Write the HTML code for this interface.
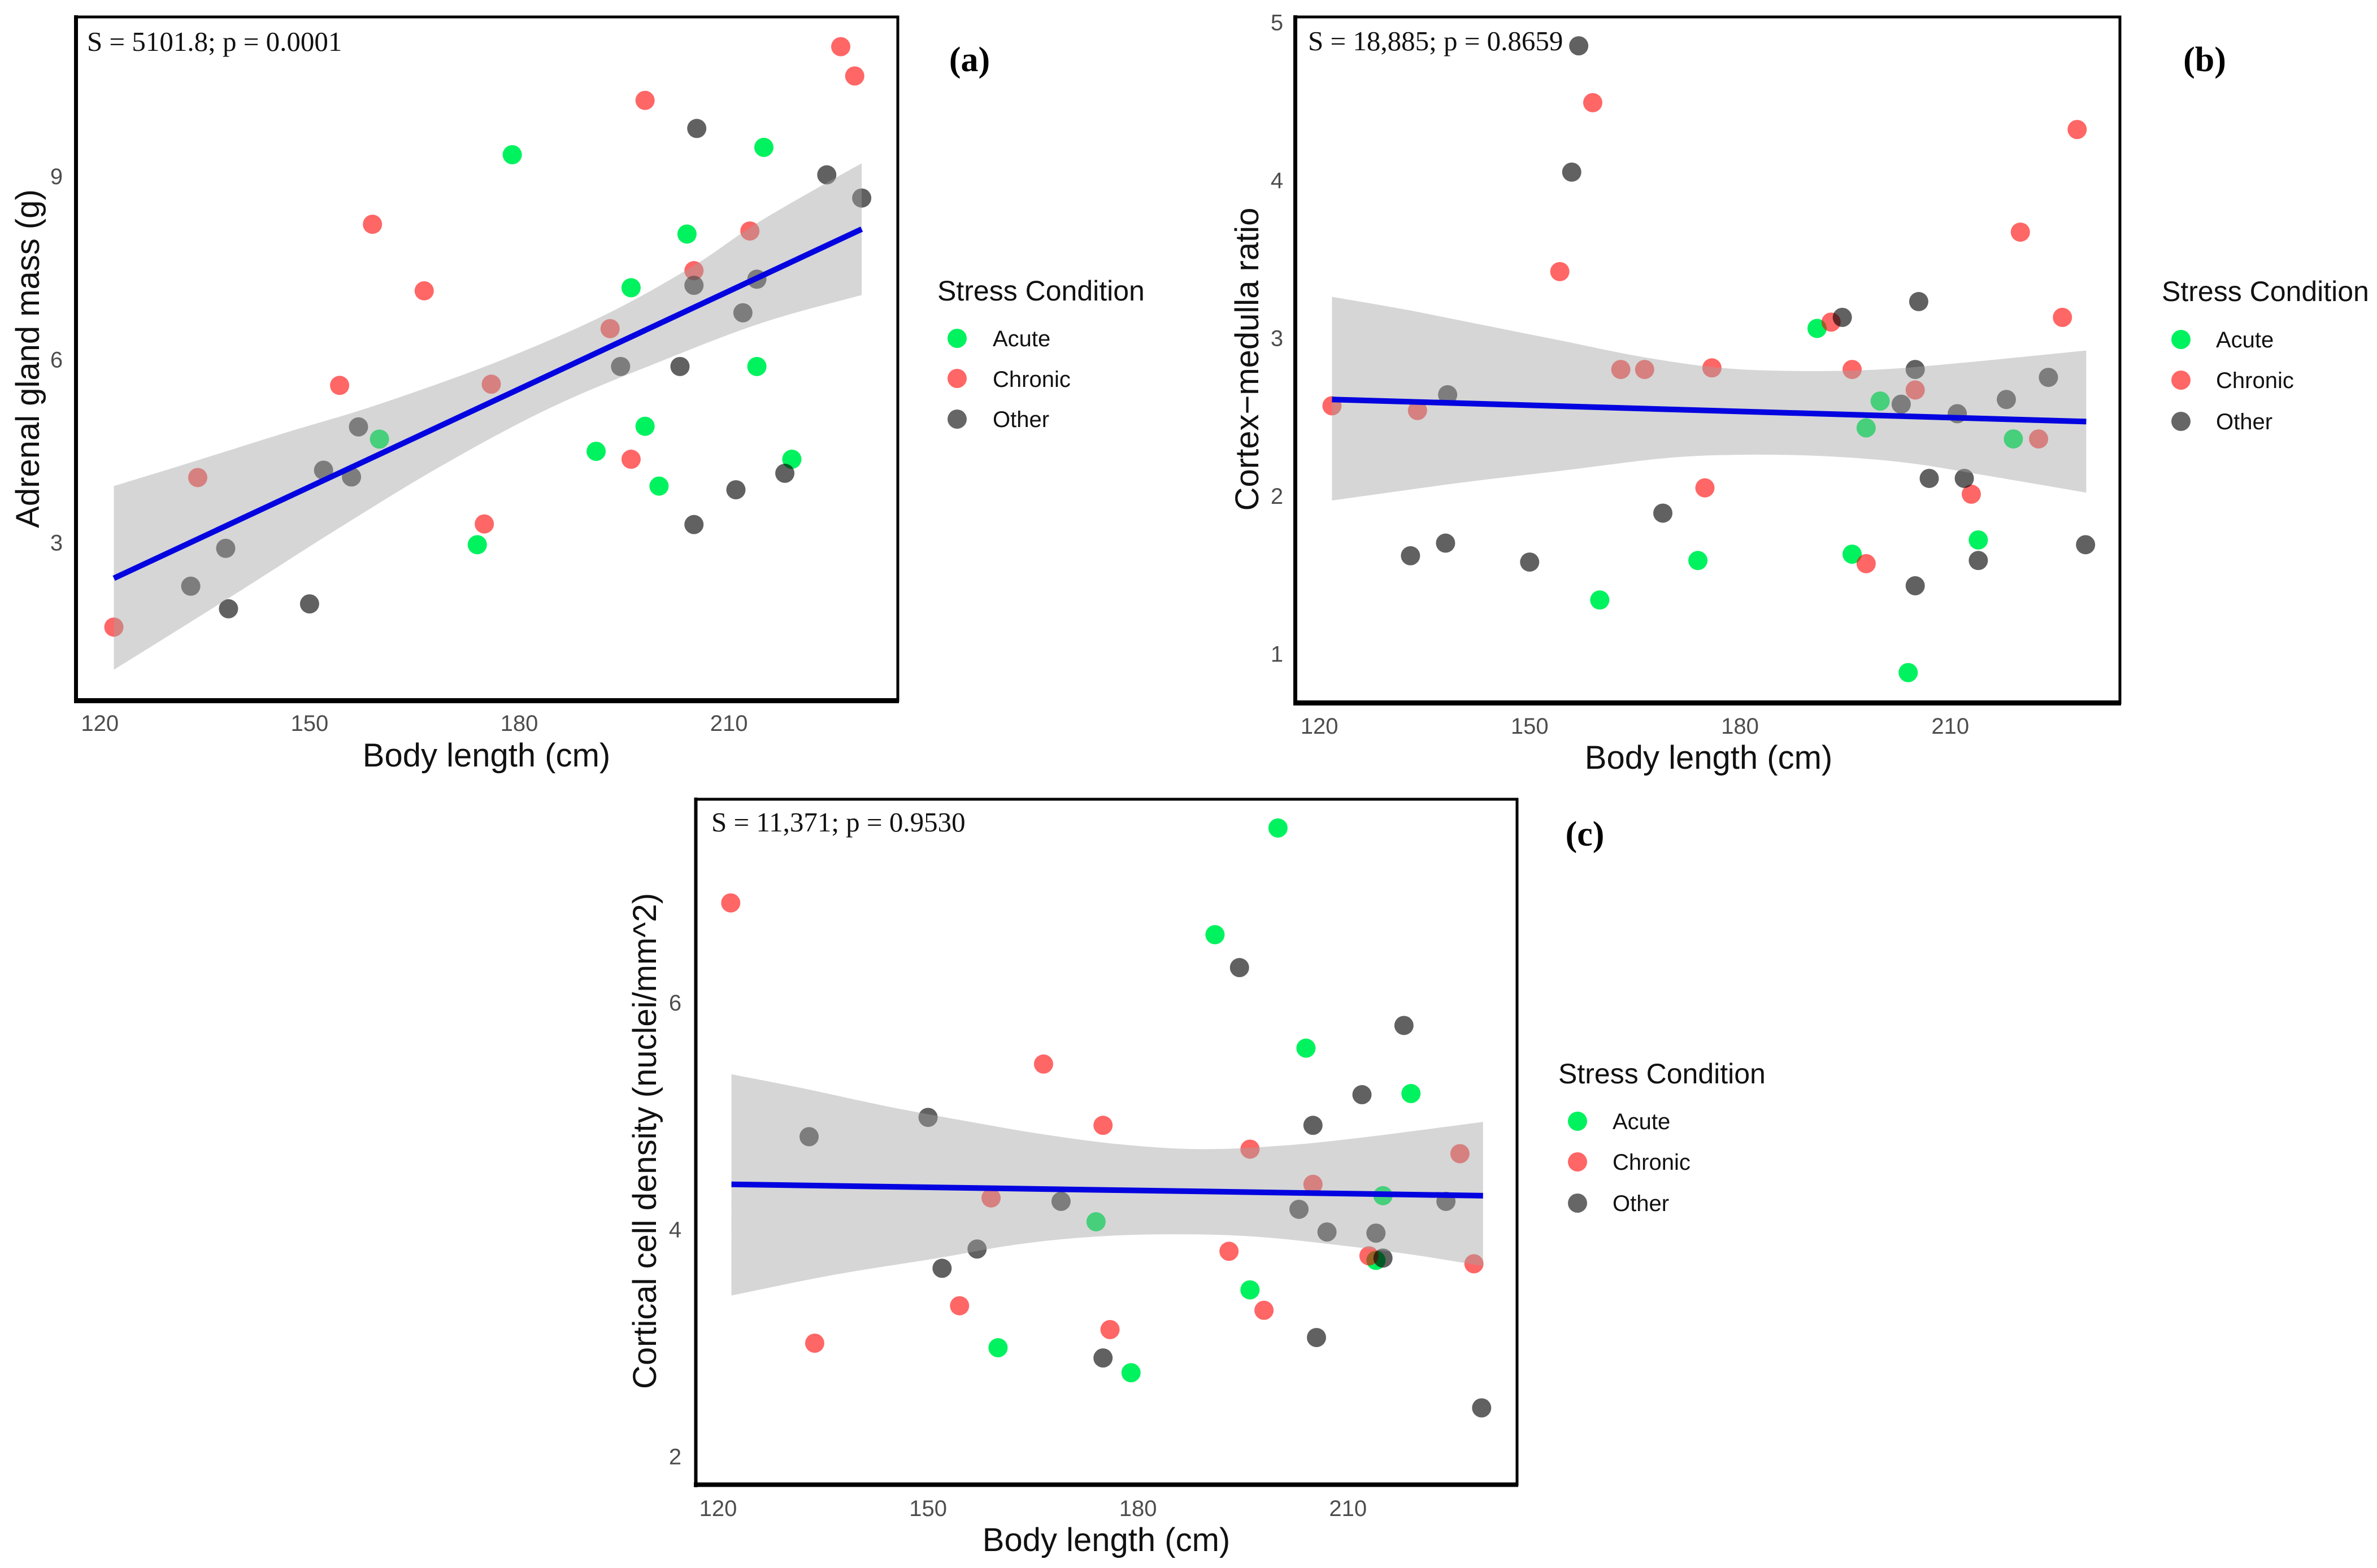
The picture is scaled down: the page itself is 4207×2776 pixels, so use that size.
<!DOCTYPE html>
<html lang="en">
<head>
<meta charset="utf-8">
<title>Adrenal measures versus body length</title>
<style>
html,body{margin:0;padding:0;background:#fff}
svg{display:block}
text{font-family:"Liberation Sans",sans-serif}
.tick{font-size:40px;fill:#4d4d4d;text-anchor:middle}
.axt{font-size:58px;fill:#111;text-anchor:middle}
.leg-t{font-size:50px;fill:#111}
.leg-i{font-size:40px;fill:#111}
.ann{font-family:"Liberation Serif",serif;font-size:49px;fill:#111}
.tag{font-family:"Liberation Serif",serif;font-weight:bold;font-size:62px;fill:#000;text-anchor:middle}
</style>
</head>
<body>
<svg xmlns="http://www.w3.org/2000/svg" width="4207" height="2776" viewBox="0 0 4207 2776">
  <rect x="0" y="0" width="4207" height="2776" fill="#fff"/>

  <g id="panel-a"></g>
  <g id="panel-b"></g>
  <g id="panel-c"></g>

  <g>
    <rect x="134" y="30" width="1455" height="1210" fill="none" stroke="#000" stroke-width="5"/>
    <line x1="134.5" y1="27" x2="134.5" y2="1245" stroke="#000" stroke-width="7"/>
    <line x1="131" y1="1240.5" x2="1591" y2="1240.5" stroke="#000" stroke-width="9"/>
    <text class="ann" x="154" y="90">S = 5101.8; p = 0.0001</text>
    <text class="axt" x="861" y="1357">Body length (cm)</text>
    <text class="axt" transform="translate(69 635) rotate(-90)" x="0" y="0">Adrenal gland mass (g)</text>
    <text class="tag" x="1716" y="126">(a)</text>
    <text class="leg-t" x="1659" y="532">Stress Condition</text>
    <circle cx="1694" cy="599" r="17" fill="#00f25f"/>
    <text class="leg-i" x="1757" y="613">Acute</text>
    <circle cx="1694" cy="670" r="17" fill="#ff6666"/>
    <text class="leg-i" x="1757" y="685">Chronic</text>
    <circle cx="1694" cy="742" r="17" fill="#666"/>
    <text class="leg-i" x="1757" y="756">Other</text>
  </g>

  <g>
    <rect x="2292" y="30" width="1460" height="1214" fill="none" stroke="#000" stroke-width="5"/>
    <line x1="2292.5" y1="27" x2="2292.5" y2="1249" stroke="#000" stroke-width="7"/>
    <line x1="2289" y1="1244.5" x2="3754" y2="1244.5" stroke="#000" stroke-width="9"/>
    <text class="ann" x="2315" y="89">S = 18,885; p = 0.8659</text>
    <text class="axt" x="3024" y="1361">Body length (cm)</text>
    <text class="axt" transform="translate(2227 636) rotate(-90)" x="0" y="0">Cortex−medulla ratio</text>
    <text class="tag" x="3902" y="126">(b)</text>
    <text class="leg-t" x="3826" y="533">Stress Condition</text>
    <circle cx="3860" cy="601" r="17" fill="#00f25f"/>
    <text class="leg-i" x="3922" y="615">Acute</text>
    <circle cx="3860" cy="673" r="17" fill="#ff6666"/>
    <text class="leg-i" x="3922" y="687">Chronic</text>
    <circle cx="3860" cy="746" r="17" fill="#666"/>
    <text class="leg-i" x="3922" y="760">Other</text>
  </g>

  <g>
    <rect x="1231" y="1415" width="1454" height="1213" fill="none" stroke="#000" stroke-width="5"/>
    <line x1="1231.5" y1="1412" x2="1231.5" y2="2633" stroke="#000" stroke-width="6"/>
    <line x1="1228" y1="2628.5" x2="2687" y2="2628.5" stroke="#000" stroke-width="8"/>
    <text class="ann" x="1259" y="1472">S = 11,371; p = 0.9530</text>
    <text class="axt" x="1958" y="2746">Body length (cm)</text>
    <text class="axt" transform="translate(1161 2020) rotate(-90)" x="0" y="0">Cortical cell density (nuclei/mm^2)</text>
    <text class="tag" x="2805" y="1497">(c)</text>
    <text class="leg-t" x="2758" y="1918">Stress Condition</text>
    <circle cx="2792" cy="1985" r="17" fill="#00f25f"/>
    <text class="leg-i" x="2854" y="1999">Acute</text>
    <circle cx="2792" cy="2057" r="17" fill="#ff6666"/>
    <text class="leg-i" x="2854" y="2071">Chronic</text>
    <circle cx="2792" cy="2130" r="17" fill="#666"/>
    <text class="leg-i" x="2854" y="2144">Other</text>
  </g>
</svg>

<script>
// Shared x tick labels
const xTicks = [120, 150, 180, 210];

// Panel (a): adrenal gland mass
const aYTicks = [3, 6, 9];
const aAcuteX = [179, 215, 204, 196, 214, 198, 160, 191, 219, 200, 174];
const aAcuteY = [9.35, 9.47, 8.05, 7.17, 5.88, 4.90, 4.69, 4.49, 4.36, 3.92, 2.96];
const aChronicX = [226, 228, 198, 159, 213, 166.4, 205, 193, 154.3, 176, 134, 196, 175, 122];
const aChronicY = [11.12, 10.64, 10.24, 8.21, 8.10, 7.12, 7.45, 6.50, 5.57, 5.59, 4.06, 4.36, 3.30, 1.61];
const aOtherX = [205.4, 224, 229, 214, 205, 212, 194.5, 203, 157, 152, 156, 218, 211, 205, 138, 133, 138.4, 150];
const aOtherY = [9.78, 9.02, 8.64, 7.31, 7.21, 6.76, 5.88, 5.88, 4.89, 4.18, 4.07, 4.13, 3.86, 3.29, 2.90, 2.28, 1.91, 1.99];
const aLineX = [122, 229];
const aLineY = [2.41, 8.13];
const aUpperX = [122, 133.9, 146.7, 159.9, 176.9, 192, 204.8, 214.6, 229];
const aUpperY = [3.92, 4.34, 4.80, 5.26, 5.96, 6.71, 7.52, 8.27, 9.21];
const aLowerX = [122, 139.2, 154.3, 169.3, 184.4, 199.5, 214.6, 229];
const aLowerY = [0.91, 2.14, 3.24, 4.28, 5.20, 5.93, 6.59, 7.05];

// Panel (b): cortex-medulla ratio
const bYTicks = [1, 2, 3, 4, 5];
const bAcuteX = [191, 200, 198, 219, 214, 196, 174, 160, 204];
const bAcuteY = [3.07, 2.61, 2.44, 2.37, 1.73, 1.64, 1.60, 1.35, 0.89];
const bChronicX = [159, 228.1, 220, 154.3, 226, 193, 163, 166.4, 176, 196, 205, 121.8, 134, 222.6, 175, 213, 198];
const bChronicY = [4.50, 4.33, 3.68, 3.43, 3.14, 3.11, 2.81, 2.81, 2.82, 2.81, 2.68, 2.58, 2.55, 2.37, 2.06, 2.02, 1.58];
const bOtherX = [157, 156, 205.5, 194.6, 205, 224, 138.3, 218, 203, 211, 207, 212, 169, 138, 133, 150, 229.3, 214, 205];
const bOtherY = [4.86, 4.06, 3.24, 3.14, 2.81, 2.76, 2.65, 2.62, 2.59, 2.53, 2.12, 2.12, 1.90, 1.71, 1.63, 1.59, 1.70, 1.60, 1.44];
const bLineX = [121.8, 229.4];
const bLineY = [2.62, 2.48];
const bUpperX = [121.8, 132.2, 143.5, 154.8, 166, 177.3, 188.6, 199.9, 211.2, 229.4];
const bUpperY = [3.27, 3.19, 3.09, 2.99, 2.89, 2.82, 2.80, 2.81, 2.85, 2.93];
const bLowerX = [121.8, 139.7, 154.8, 169.8, 181.1, 192.4, 203.6, 214.9, 229.4];
const bLowerY = [1.98, 2.09, 2.17, 2.25, 2.27, 2.26, 2.22, 2.14, 2.03];

// Panel (c): cortical cell density
const cYTicks = [2, 4, 6];
const cAcuteX = [200, 191, 204, 219, 215, 174, 196, 160, 179, 214];
const cAcuteY = [7.54, 6.60, 5.60, 5.20, 4.30, 4.07, 3.47, 2.96, 2.74, 3.73];
const cChronicX = [121.8, 166.5, 175, 196, 226, 205, 159, 193, 213, 228, 154.5, 198, 176, 133.8];
const cChronicY = [6.88, 5.46, 4.92, 4.71, 4.67, 4.40, 4.28, 3.81, 3.77, 3.70, 3.33, 3.29, 3.12, 3.00];
const cOtherX = [194.5, 218, 212, 205, 150, 133, 169, 224, 203, 207, 214, 157, 152, 215, 205.5, 175, 229.1];
const cOtherY = [6.31, 5.80, 5.19, 4.92, 4.99, 4.82, 4.25, 4.25, 4.18, 3.98, 3.97, 3.83, 3.66, 3.75, 3.05, 2.87, 2.43];
const cLineX = [121.9, 229.3];
const cLineY = [4.40, 4.30];
const cUpperX = [121.9, 132.6, 143.9, 155.2, 166.5, 177.8, 189, 200.4, 211.7, 229.3];
const cUpperY = [5.37, 5.24, 5.09, 4.96, 4.84, 4.75, 4.71, 4.74, 4.81, 4.95];
const cLowerX = [121.9, 136.3, 151.4, 162.7, 174, 185.3, 196.6, 207.9, 219.2, 229.3];
const cLowerY = [3.42, 3.60, 3.75, 3.87, 3.94, 3.96, 3.94, 3.87, 3.78, 3.68];

const NS = 'http://www.w3.org/2000/svg';

function makeAxis(origin, originValue, pixelsPerUnit) {
  return function (v) { return origin + pixelsPerUnit * (v - originValue); };
}

// Catmull-Rom through a list of pixel points; the first point is assumed already reached.
function smoothSegments(pts) {
  let d = '';
  for (let i = 0; i < pts.length - 1; i++) {
    const p0 = pts[Math.max(i - 1, 0)];
    const p1 = pts[i];
    const p2 = pts[i + 1];
    const p3 = pts[Math.min(i + 2, pts.length - 1)];
    const c1x = p1[0] + (p2[0] - p0[0]) / 6;
    const c1y = p1[1] + (p2[1] - p0[1]) / 6;
    const c2x = p2[0] - (p3[0] - p1[0]) / 6;
    const c2y = p2[1] - (p3[1] - p1[1]) / 6;
    d += ' C' + c1x.toFixed(1) + ' ' + c1y.toFixed(1) + ' ' + c2x.toFixed(1) + ' ' + c2y.toFixed(1) + ' ' + p2[0].toFixed(1) + ' ' + p2[1].toFixed(1);
  }
  return d;
}

function drawPoints(group, xs, ys, sx, sy, fill, label) {
  xs.forEach(function (x, i) {
    const c = document.createElementNS(NS, 'circle');
    c.setAttribute('cx', sx(x));
    c.setAttribute('cy', sy(ys[i]));
    c.setAttribute('r', 17);
    c.setAttribute('fill', fill);
    
    
    group.appendChild(c);
  });
}

function drawBand(group, upperX, upperY, lowerX, lowerY, sx, sy) {
  const up = upperX.map(function (x, i) { return [sx(x), sy(upperY[i])]; });
  const low = lowerX.map(function (x, i) { return [sx(x), sy(lowerY[i])]; }).reverse();
  const d = 'M' + up[0][0] + ' ' + up[0][1] + smoothSegments(up) + ' L' + low[0][0] + ' ' + low[0][1] + smoothSegments(low) + ' Z';
  const p = document.createElementNS(NS, 'path');
  p.setAttribute('d', d);
  p.setAttribute('fill', '#a1a1a1');
  p.setAttribute('fill-opacity', '0.44');
  
  
  group.appendChild(p);
}

function drawLine(group, lx, ly, sx, sy) {
  const l = document.createElementNS(NS, 'line');
  l.setAttribute('x1', sx(lx[0]));
  l.setAttribute('y1', sy(ly[0]));
  l.setAttribute('x2', sx(lx[1]));
  l.setAttribute('y2', sy(ly[1]));
  l.setAttribute('stroke', '#0404e0');
  l.setAttribute('stroke-width', 10);
  
  
  group.appendChild(l);
}

function drawXTicks(group, sx, baseline) {
  xTicks.forEach(function (t) {
    const e = document.createElementNS(NS, 'text');
    e.setAttribute('class', 'tick');
    e.setAttribute('x', sx(t));
    e.setAttribute('y', baseline);
    
    
    e.textContent = t;
    group.appendChild(e);
  });
}

function drawYTicks(group, ticks, sy, centerX, shift) {
  ticks.forEach(function (t) {
    const e = document.createElementNS(NS, 'text');
    e.setAttribute('class', 'tick');
    e.setAttribute('x', centerX);
    e.setAttribute('y', sy(t) + 14.5 + shift);
    
    
    e.textContent = t;
    group.appendChild(e);
  });
}

const ACUTE_FILL = '#00f25f';
const CHRONIC_FILL = 'rgba(255,0,0,0.6)';
const OTHER_FILL = 'rgba(0,0,0,0.62)';

// Panel (a)
(function () {
  const g = document.getElementById('panel-a');
  const sx = makeAxis(176.8, 120, 12.37);
  const sy = makeAxis(960, 3, -108.05);
  drawPoints(g, aAcuteX, aAcuteY, sx, sy, ACUTE_FILL, 'acute');
  drawPoints(g, aChronicX, aChronicY, sx, sy, CHRONIC_FILL, 'chronic');
  drawPoints(g, aOtherX, aOtherY, sx, sy, OTHER_FILL, 'other');
  drawBand(g, aUpperX, aUpperY, aLowerX, aLowerY, sx, sy);
  drawLine(g, aLineX, aLineY, sx, sy);
  drawXTicks(g, sx, 1294);
  drawYTicks(g, aYTicks, sy, 100, 0);
})();

// Panel (b)
(function () {
  const g = document.getElementById('panel-b');
  const sx = makeAxis(2335.1, 120, 12.407);
  const sy = makeAxis(1160, 1, -279.5);
  drawPoints(g, bAcuteX, bAcuteY, sx, sy, ACUTE_FILL, 'acute');
  drawPoints(g, bChronicX, bChronicY, sx, sy, CHRONIC_FILL, 'chronic');
  drawPoints(g, bOtherX, bOtherY, sx, sy, OTHER_FILL, 'other');
  drawBand(g, bUpperX, bUpperY, bLowerX, bLowerY, sx, sy);
  drawLine(g, bLineX, bLineY, sx, sy);
  drawXTicks(g, sx, 1299);
  drawYTicks(g, bYTicks, sy, 2260, -3);
})();

// Panel (c)
(function () {
  const g = document.getElementById('panel-c');
  const sx = makeAxis(1271, 120, 12.386);
  const sy = makeAxis(2578.9, 2, -200.9);
  drawPoints(g, cAcuteX, cAcuteY, sx, sy, ACUTE_FILL, 'acute');
  drawPoints(g, cChronicX, cChronicY, sx, sy, CHRONIC_FILL, 'chronic');
  drawPoints(g, cOtherX, cOtherY, sx, sy, OTHER_FILL, 'other');
  drawBand(g, cUpperX, cUpperY, cLowerX, cLowerY, sx, sy);
  drawLine(g, cLineX, cLineY, sx, sy);
  drawXTicks(g, sx, 2684);
  drawYTicks(g, cYTicks, sy, 1195, -1);
})();
</script>
</body>
</html>
